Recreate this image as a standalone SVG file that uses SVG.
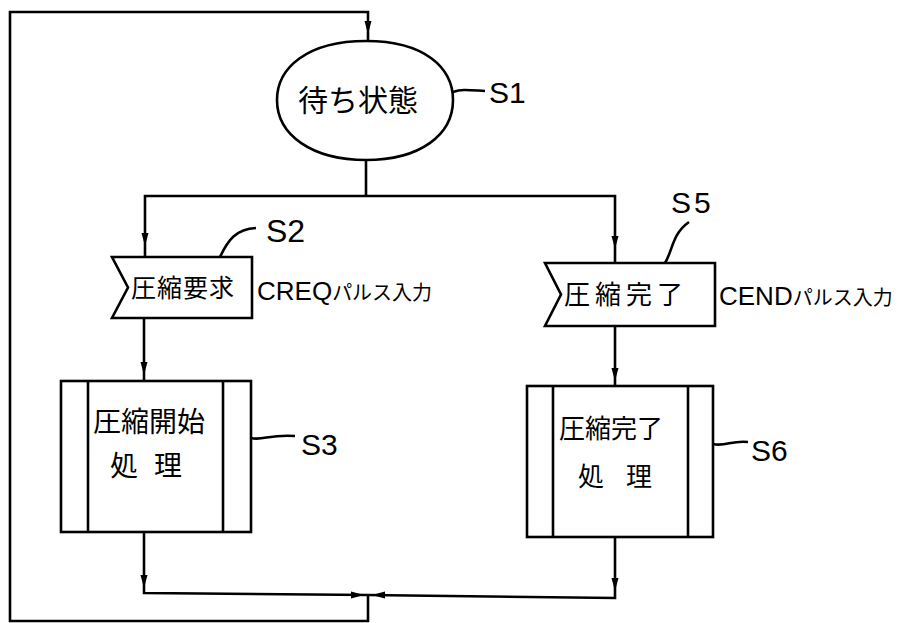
<svg xmlns="http://www.w3.org/2000/svg" width="901" height="623" viewBox="0 0 901 623" xmlns:xlink="http://www.w3.org/1999/xlink">
<style>
.ln{fill:none;stroke:#000;stroke-width:2.6;stroke-linejoin:miter}
.box{fill:#fff;stroke:#000;stroke-width:2.6}
.jp{font-family:"Noto Sans CJK JP","Noto Sans CJK SC",sans-serif;fill:#000}
.lbl{font-family:"Liberation Sans","Noto Sans CJK JP",sans-serif;fill:#000}
.kt{font-family:"Noto Sans CJK JP",sans-serif;font-size:20px}
</style>
<defs>
<path id="ah" d="M -3.5 -13 L 3.5 -13 L 0 0 Z"/>
</defs>
<rect width="901" height="623" fill="#fff"/>
<g id="connectors">
<path class="ln" d="M 368 595 V 621 H 10 V 12 H 368 V 41"/>
<path class="ln" d="M 366 160 V 196"/>
<path class="ln" d="M 145 257 V 196 H 615 V 263"/>
<path class="ln" d="M 144 318 V 381"/>
<path class="ln" d="M 615 326 V 386"/>
<path class="ln" d="M 144 532 V 593 L 368 595"/>
<path class="ln" d="M 615 537 V 598 L 368 595"/>
<use xlink:href="#ah" transform="translate(368,34)"/>
<use xlink:href="#ah" transform="translate(145,246)"/>
<use xlink:href="#ah" transform="translate(615,249)"/>
<use xlink:href="#ah" transform="translate(144,375)"/>
<use xlink:href="#ah" transform="translate(615,381)"/>
<use xlink:href="#ah" transform="translate(144,588)"/>
<use xlink:href="#ah" transform="translate(615,591)"/>
<use xlink:href="#ah" transform="translate(364,595) rotate(-90)"/>
<use xlink:href="#ah" transform="translate(372,595) rotate(90)"/>
</g>
<g id="S1">
<path class="box" d="M 366 41 C 425 41 453 68 453 100 C 453 135 420 160 366 160 C 312 160 277 135 277 100 C 277 68 307 41 366 41 Z"/>
<text class="jp" x="358" y="111" font-size="30" text-anchor="middle">待ち状態</text>
<path class="ln" d="M 453 92 C 462 89 468 90 485 91"/>
<text class="lbl" x="489" y="103" font-size="30">S1</text>
</g>
<g id="S2">
<path class="box" d="M 112 257 H 252 V 318 H 112 L 128 287.5 Z"/>
<text class="jp" x="131" y="297" font-size="25" letter-spacing="1">圧縮要求</text>
<text class="lbl" x="257" y="300" font-size="26">CREQ<tspan class="kt">パルス入力</tspan></text>
<path class="ln" d="M 220 257 C 228 240 236 229 256 228"/>
<text class="lbl" x="266" y="242" font-size="32">S2</text>
</g>
<g id="S3">
<rect class="box" x="61" y="381" width="190" height="151"/>
<path class="ln" d="M 88 381 V 532 M 223 381 V 532"/>
<text class="jp" x="93" y="432" font-size="28">圧縮開始</text>
<text class="jp" x="110" y="476" font-size="28" letter-spacing="16">処理</text>
<path class="ln" d="M 251 438 C 262 441 270 434 295 436"/>
<text class="lbl" x="301" y="455" font-size="30">S3</text>
</g>
<g id="S5">
<path class="box" d="M 545 263 H 715 V 326 H 545 L 561 294.5 Z"/>
<text class="jp" x="564" y="304" font-size="26" letter-spacing="5">圧縮完了</text>
<text class="lbl" x="719" y="305" font-size="26">CEND<tspan class="kt">パルス入力</tspan></text>
<path class="ln" d="M 665 263 C 673 250 672 234 689 222"/>
<text class="lbl" x="671" y="213" font-size="30" letter-spacing="3">S5</text>
</g>
<g id="S6">
<rect class="box" x="527" y="386" width="186" height="151"/>
<path class="ln" d="M 553 386 V 537 M 688 386 V 537"/>
<text class="jp" x="559" y="438" font-size="26">圧縮完了</text>
<text class="jp" x="578" y="486" font-size="26" letter-spacing="22">処理</text>
<path class="ln" d="M 713 444 C 725 447 732 440 748 442"/>
<text class="lbl" x="751" y="461" font-size="30">S6</text>
</g>
</svg>
